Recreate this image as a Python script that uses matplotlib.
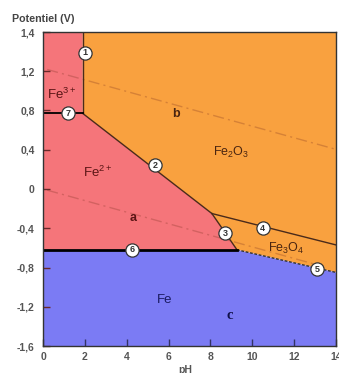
import matplotlib
matplotlib.use("Agg")
import matplotlib.pyplot as plt
from matplotlib.patches import Polygon

plt.rcParams['font.family'] = ['Liberation Sans', 'DejaVu Sans']
plt.rcParams['mathtext.fontset'] = 'custom'
plt.rcParams['mathtext.rm'] = 'Liberation Sans'
plt.rcParams['mathtext.it'] = 'Liberation Sans:italic'
plt.rcParams['mathtext.bf'] = 'Liberation Sans:bold'

# ---- data (pH, potential in V) ----
E_top, E_bot = 1.6, -1.6
pH_min, pH_max = 0, 14
# boundary nodes
node_A = (1.9, 0.77)     # Fe3+ / Fe2+ / Fe2O3
node_B = (8.07, -0.25)   # Fe2+ / Fe2O3 / Fe3O4
node_C = (9.27, -0.62)   # Fe2+ / Fe3O4 / Fe
E_line4_end = -0.57      # Fe2O3/Fe3O4 at pH 14
E_line5_end = -0.85      # Fe3O4/Fe at pH 14
# water lines E = e0 + slope*pH
water_b = (1.23, -0.059)
water_a = (0.0, -0.059)

yticks = [-1.6, -1.2, -0.8, -0.4, 0, 0.4, 0.8, 1.2, 1.6]
ytick_labels = ['-1,6', '-1,2', '-0,8', '-0,4', '0', '0,4', '0,8', '1,2', '1,4']
xticks = [0, 2, 4, 6, 8, 10, 12, 14]

circle_labels = ['1', '2', '3', '4', '5', '6', '7']
circle_pH = [2.0, 5.35, 8.7, 10.5, 13.1, 4.25, 1.2]
circle_E = [1.39, 0.24, -0.45, -0.40, -0.82, -0.62, 0.77]

# ---- figure ----
fig = plt.figure(figsize=(3.39, 3.73), dpi=100)
ax = fig.add_axes([43/339, 1-346/373, (336-43)/339, (346-32)/373])
ax.set_xlim(pH_min, pH_max)
ax.set_ylim(E_bot, E_top)

red = '#F5757A'
orange = '#F9A13F'
blue = '#7B7BF4'

xA, yA = node_A
xB, yB = node_B
xC, yC = node_C

ax.add_patch(Polygon([(pH_min, E_top), (xA, E_top), (xA, yA), (xB, yB), (xC, yC),
                      (pH_min, yC)], closed=True, facecolor=red, edgecolor='none', zorder=1))
ax.add_patch(Polygon([(xA, E_top), (pH_max, E_top), (pH_max, E_line5_end), (xC, yC),
                      (xB, yB), (xA, yA)], closed=True, facecolor=orange, edgecolor='none', zorder=1))
ax.add_patch(Polygon([(pH_min, yC), (xC, yC), (pH_max, E_line5_end), (pH_max, E_bot),
                      (pH_min, E_bot)], closed=True, facecolor=blue, edgecolor='none', zorder=1))

# water lines
for (e0, s), xe in ((water_b, 14), (water_a, 13.0)):
    ax.plot([0.2, xe], [e0 + s*0.2, e0 + s*xe], color='#7a3020', alpha=0.28, lw=1.0,
            dashes=(8, 3, 1.5, 3), zorder=2)

line_col = '#4a2a1a'
# boundaries
ax.plot([xA, xA], [yA, E_top], color=line_col, lw=1.0, zorder=3)           # 1
ax.plot([xA, xB], [yA, yB], color=line_col, lw=1.0, zorder=3)              # 2
ax.plot([xB, xC], [yB, yC], color=line_col, lw=1.0, zorder=3)              # 3
ax.plot([xB, pH_max], [yB, E_line4_end], color=line_col, lw=1.0, zorder=3) # 4
ax.plot([xC, pH_max], [yC, E_line5_end], color='#333333', lw=1.0,
        dashes=(2, 1.2), zorder=3)                                          # 5
ax.plot([pH_min, xC], [yC, yC], color='black', lw=2.0, zorder=3)            # 6
ax.plot([pH_min, xA], [yA, yA], color='black', lw=1.3, zorder=3)           # 7

# circled numbers
for lab, xp, yp in zip(circle_labels, circle_pH, circle_E):
    ax.plot(xp, yp, 'o', ms=9.5, mfc='white', mec='#333333', mew=0.9, zorder=5)
    ax.text(xp, yp, lab, ha='center', va='center', fontsize=6.5, fontweight='bold',
            color='#333333', zorder=6)

# region labels
ax.text(0.9, 0.96, r'Fe$^{3+}$', ha='center', va='center', fontsize=9.5, color='#5a1515', zorder=4)
ax.text(2.6, 0.17, r'Fe$^{2+}$', ha='center', va='center', fontsize=9.5, color='#5a1515', zorder=4)
ax.text(9.0, 0.37, r'Fe$_2$O$_3$', ha='center', va='center', fontsize=9, color='#4a2510', zorder=4)
ax.text(11.6, -0.61, r'Fe$_3$O$_4$', ha='center', va='center', fontsize=9, color='#4a2510', zorder=4)
ax.text(5.8, -1.13, 'Fe', ha='center', va='center', fontsize=9.5, color='#1a1a60', zorder=4)
ax.text(6.35, 0.76, 'b', ha='center', va='center', fontsize=9, fontweight='bold', color='#4a2510', zorder=4)
ax.text(4.3, -0.30, 'a', ha='center', va='center', fontsize=9, fontweight='bold', color='#5a1515', zorder=4)
ax.text(8.9, -1.29, 'c', ha='center', va='center', fontsize=10.5, fontweight='bold',
        family='Liberation Serif', color='#10104a', zorder=4)

# axes styling
ax.set_xticks(xticks)
ax.set_xticklabels([str(t) for t in xticks])
ax.set_yticks(yticks)
ax.set_yticklabels(ytick_labels)
ax.tick_params(axis='both', direction='in', length=5, width=1.0, color='#333366',
               labelsize=7.5, labelcolor='#555555')
ax.tick_params(axis='y', pad=6, color='#6a2a2a')
ax.tick_params(axis='x', pad=4)
for lab in ax.get_xticklabels() + ax.get_yticklabels():
    lab.set_fontweight('bold')
for sp in ax.spines.values():
    sp.set_color('#333333')
    sp.set_linewidth(1.0)
    sp.set_zorder(7)

fig.text(12/339, 1-22/373, 'Potentiel (V)', ha='left', va='baseline', fontsize=7.7,
         fontweight='bold', color='#444444')
fig.text(185/339, 1-365/373, 'pH', ha='center', va='top', fontsize=7.5,
         fontweight='bold', color='#555555')

fig.savefig('out.png', dpi=100)
